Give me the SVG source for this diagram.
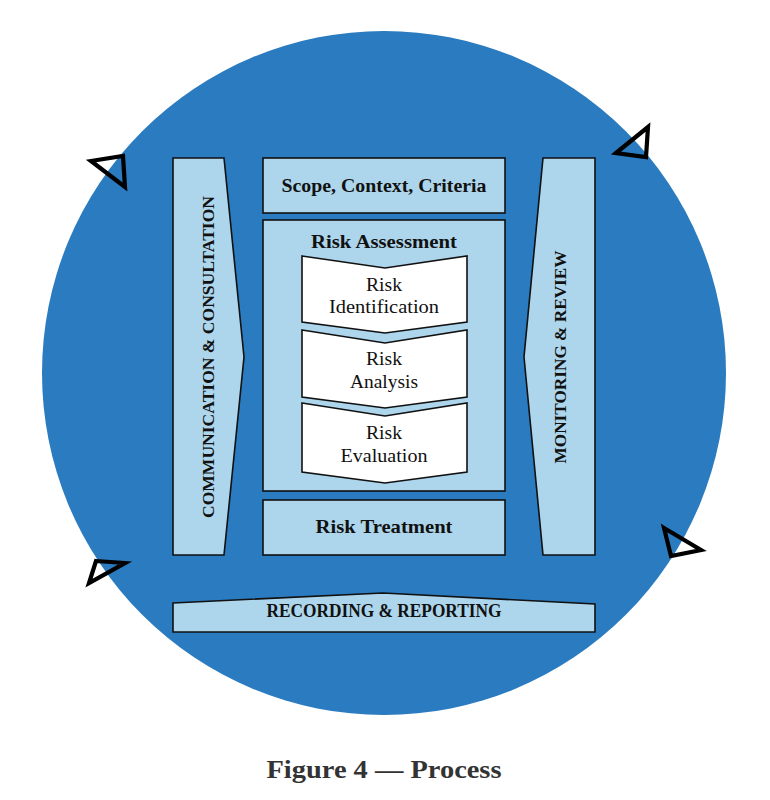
<svg xmlns="http://www.w3.org/2000/svg" width="770" height="800" viewBox="0 0 770 800">
<style>
.box{fill:#ADD6EC;stroke:#111;stroke-width:1.6}
.wbox{fill:#fff;stroke:#111;stroke-width:1.6}
.b{font-family:"Liberation Serif","DejaVu Serif",serif;font-weight:bold;fill:#111;text-anchor:middle}
.r{font-family:"Liberation Serif","DejaVu Serif",serif;fill:#111;text-anchor:middle;font-size:19px}
.tri{fill:none;stroke:#000;stroke-width:4.2;stroke-linejoin:miter}
</style>
<rect width="770" height="800" fill="#fff"/>
<g id="cycle">
<circle cx="384" cy="373" r="342" fill="#2A7BBF"/>
</g>
<g id="connectors">
<polygon class="tri" points="91,161 123,156 125,187"/>
<polygon class="tri" points="616,153 648,127 646,157"/>
<polygon class="tri" points="664,528 701,550 671,556"/>
<polygon class="tri" points="96,561 125,563 89,583"/>
</g>
<g id="communication">
<polygon class="box" points="173,158 224,158 244,357 224,555 173,555"/>
<text class="b" font-size="17" textLength="322" lengthAdjust="spacingAndGlyphs" transform="translate(214,357) rotate(-90)">COMMUNICATION &amp; CONSULTATION</text>
</g>
<g id="monitoring">
<polygon class="box" points="543,158 595,158 595,555 543,555 524,357"/>
<text class="b" font-size="17" textLength="213" lengthAdjust="spacingAndGlyphs" transform="translate(566,357) rotate(-90)">MONITORING &amp; REVIEW</text>
</g>
<g id="scope">
<rect class="box" x="263" y="158" width="242" height="55"/>
<text class="b" font-size="19" x="384" y="192" textLength="205" lengthAdjust="spacingAndGlyphs">Scope, Context, Criteria</text>
</g>
<g id="assessment">
<rect class="box" x="263" y="220" width="242" height="271"/>
<text class="b" font-size="19" x="384" y="248" textLength="146" lengthAdjust="spacingAndGlyphs">Risk Assessment</text>
</g>
<g id="identification">
<polygon class="wbox" points="302,256 385,268 467,256 467,322 385,333 302,322"/>
<text class="r" x="384" y="291" textLength="36" lengthAdjust="spacingAndGlyphs">Risk</text>
<text class="r" x="384" y="313" textLength="110" lengthAdjust="spacingAndGlyphs">Identification</text>
</g>
<g id="analysis">
<polygon class="wbox" points="302,330 385,343 467,330 467,397 385,408 302,397"/>
<text class="r" x="384" y="365" textLength="36" lengthAdjust="spacingAndGlyphs">Risk</text>
<text class="r" x="384" y="388" textLength="68" lengthAdjust="spacingAndGlyphs">Analysis</text>
</g>
<g id="evaluation">
<polygon class="wbox" points="302,403 385,416 467,403 467,472 385,483 302,472"/>
<text class="r" x="384" y="439" textLength="36" lengthAdjust="spacingAndGlyphs">Risk</text>
<text class="r" x="384" y="462" textLength="87" lengthAdjust="spacingAndGlyphs">Evaluation</text>
</g>
<g id="treatment">
<rect class="box" x="263" y="500" width="242" height="55"/>
<text class="b" font-size="19" x="384" y="533" textLength="137" lengthAdjust="spacingAndGlyphs">Risk Treatment</text>
</g>
<g id="recording">
<polygon class="box" points="173,603 383,593 595,604 595,632 173,632"/>
<text class="b" font-size="18" x="384" y="617" textLength="235" lengthAdjust="spacingAndGlyphs">RECORDING &amp; REPORTING</text>
</g>
<text class="b" font-size="25" x="384" y="778" style="fill:#333" textLength="235" lengthAdjust="spacingAndGlyphs">Figure 4 — Process</text>
</svg>
